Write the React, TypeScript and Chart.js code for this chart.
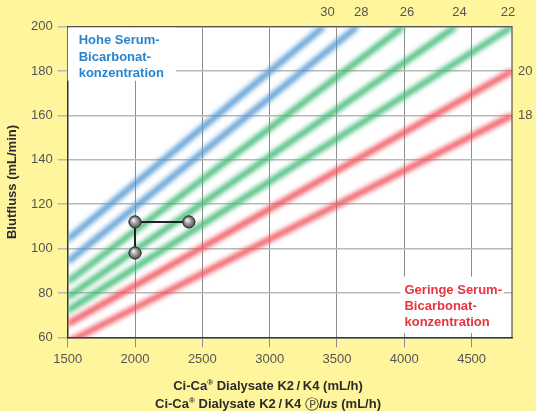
import React, { useEffect, useRef } from 'react';
import { Chart, registerables } from 'chart.js';

Chart.register(...registerables);

// ---------- data ----------
const xTicks = [1500, 2000, 2500, 3000, 3500, 4000, 4500];
const yTicks = [60, 80, 100, 120, 140, 160, 180, 200];
const xMin = 1500;
const xMax = 4800;
const yMin = 60;
const yMax = 200;

const bandLevels = ['30', '28', '26', '24', '22', '20', '18'];
const bandGroup = ['blue', 'blue', 'green', 'green', 'green', 'red', 'red'];
const bandStartX = [1500, 1500, 1500, 1500, 1500, 1500, 1500];
const bandStartY = [104, 94, 85, 78, 72, 66, 57.7];
const bandEndX = [3400, 3650, 3990, 4380, 4800, 4800, 4800];
const bandEndY = [200, 200, 200, 200, 200, 180, 160];
const topLabelLevels = ['30', '28', '26', '24', '22'];
const rightLabelLevels = ['20', '18'];

const markerX = [2400, 2000, 2000];
const markerY = [112, 112, 98];

const highNote = ['Hohe Serum-', 'Bicarbonat-', 'konzentration'];
const lowNote = ['Geringe Serum-', 'Bicarbonat-', 'konzentration'];
const yTitle = 'Blutfluss (mL/min)';

// ---------- styles ----------
const BG = '#fff59d';
const FONT = '"Liberation Sans", Arial, Helvetica, sans-serif';
const COLORS: Record<string, string> = {
  blue: '#4f96d2',
  green: '#3cb872',
  red: '#ef4d57',
};
const TICK_COLOR = '#555555';
const TITLE_COLOR = '#2b2b2b';

type Run = { t: string; f: string; dy?: number };

function drawRuns(ctx: CanvasRenderingContext2D, runs: Run[], cx: number, y: number) {
  let total = 0;
  for (const r of runs) {
    ctx.font = r.f;
    total += ctx.measureText(r.t).width;
  }
  let x = cx - total / 2;
  ctx.textAlign = 'left';
  ctx.textBaseline = 'alphabetic';
  for (const r of runs) {
    ctx.font = r.f;
    ctx.fillText(r.t, x, y + (r.dy || 0));
    x += ctx.measureText(r.t).width;
  }
}

function drawNote(
  ctx: CanvasRenderingContext2D,
  lines: string[],
  left: number,
  firstBaseline: number,
  color: string,
  pad: { l: number; r: number; t: number; b: number }
) {
  const lh = 16.2;
  ctx.font = `bold 13px ${FONT}`;
  let w = 0;
  lines.forEach((s) => (w = Math.max(w, ctx.measureText(s).width)));
  const top = firstBaseline - 10 - pad.t;
  const bottom = firstBaseline + lh * (lines.length - 1) + pad.b;
  ctx.fillStyle = '#ffffff';
  ctx.fillRect(left - pad.l, top, w + pad.l + pad.r, bottom - top);
  ctx.fillStyle = color;
  ctx.textAlign = 'left';
  ctx.textBaseline = 'alphabetic';
  lines.forEach((s, i) => ctx.fillText(s, left, firstBaseline + i * lh));
}

const blurPlugin = {
  id: 'blurBands',
  beforeDatasetDraw(chart: any, args: any) {
    if (args.index >= 1) {
      chart.ctx.save();
      chart.ctx.filter = 'blur(2.6px)';
    }
  },
  afterDatasetDraw(chart: any, args: any) {
    if (args.index >= 1) chart.ctx.restore();
  },
};

const decorPlugin = {
  id: 'decor',
  beforeDraw(chart: any) {
    const { ctx, chartArea: a } = chart;
    ctx.save();
    ctx.fillStyle = '#ffffff';
    ctx.fillRect(a.left, a.top, a.right - a.left, a.bottom - a.top);
    ctx.restore();
  },
  beforeDatasetsDraw(chart: any) {
    const { ctx, chartArea: a } = chart;
    ctx.save();
    drawNote(ctx, highNote, a.left + 11, a.top + 17.6, '#2a84cc', { l: 11, r: 12, t: 7, b: 4 });
    ctx.font = `bold 13px ${FONT}`;
    let w = 0;
    lowNote.forEach((s) => (w = Math.max(w, ctx.measureText(s).width)));
    const lowLeft = a.right - 10 - w;
    const lowBase = a.bottom - 11.3 - 16.2 * (lowNote.length - 1);
    drawNote(ctx, lowNote, lowLeft, lowBase, '#e8343e', { l: 4, r: 2, t: 7, b: 7 });
    ctx.restore();
  },
  afterDatasetsDraw(chart: any) {
    const { ctx, chartArea: a } = chart;
    ctx.save();
    // frame top & right
    ctx.strokeStyle = '#555555';
    ctx.lineWidth = 1.2;
    ctx.beginPath();
    ctx.moveTo(a.left, a.top);
    ctx.lineTo(a.right, a.top);
    ctx.lineTo(a.right, a.bottom);
    ctx.stroke();
    // marker shading
    const meta = chart.getDatasetMeta(0);
    meta.data.forEach((pt: any) => {
      const { x, y } = pt;
      const g = ctx.createRadialGradient(x - 1.8, y - 2, 0.3, x, y, 6.2);
      g.addColorStop(0, '#f4f4f4');
      g.addColorStop(0.45, '#a4a4a4');
      g.addColorStop(1, '#4a4a4a');
      ctx.beginPath();
      ctx.arc(x, y, 6, 0, Math.PI * 2);
      ctx.fillStyle = g;
      ctx.fill();
      ctx.strokeStyle = '#3a3a3a';
      ctx.lineWidth = 1;
      ctx.stroke();
    });
    ctx.restore();
  },
  afterDraw(chart: any) {
    const { ctx, chartArea: a, scales } = chart;
    const xs = scales.x;
    const ys = scales.y;
    ctx.save();
    ctx.fillStyle = TICK_COLOR;
    ctx.font = `13px ${FONT}`;
    ctx.textBaseline = 'middle';
    ctx.textAlign = 'center';
    topLabelLevels.forEach((lvl) => {
      const i = bandLevels.indexOf(lvl);
      let px = xs.getPixelForValue(bandEndX[i]) + 4;
      px = Math.min(px, a.right - 4);
      ctx.fillText(lvl, px, a.top - 14);
    });
    ctx.textAlign = 'left';
    rightLabelLevels.forEach((lvl) => {
      const i = bandLevels.indexOf(lvl);
      ctx.fillText(lvl, a.right + 6, ys.getPixelForValue(bandEndY[i]));
    });
    // y title
    ctx.fillStyle = TITLE_COLOR;
    ctx.font = `bold 13px ${FONT}`;
    ctx.save();
    ctx.translate(12, (a.top + a.bottom) / 2);
    ctx.rotate(-Math.PI / 2);
    ctx.textAlign = 'center';
    ctx.textBaseline = 'middle';
    ctx.fillText(yTitle, 0, 0);
    ctx.restore();
    // x titles
    const cx = chart.width / 2;
    const b13 = `bold 13px ${FONT}`;
    const sup = `bold 8px ${FONT}`;
    drawRuns(
      ctx,
      [
        { t: 'Ci-Ca', f: b13 },
        { t: '®', f: sup, dy: -5 },
        { t: ' Dialysate K2\u2009/\u2009K4 (mL/h)', f: b13 },
      ],
      cx,
      389.5
    );
    drawRuns(
      ctx,
      [
        { t: 'Ci-Ca', f: b13 },
        { t: '®', f: sup, dy: -5 },
        { t: ' Dialysate K2\u2009/\u2009K4 ', f: b13 },
        { t: '\u24C5', f: `14px "DejaVu Sans", sans-serif`, dy: 1 },
        { t: 'lus', f: `italic bold 13px ${FONT}` },
        { t: ' (mL/h)', f: b13 },
      ],
      cx,
      407.5
    );
    ctx.restore();
  },
};

export default function App() {
  const ref = useRef<HTMLCanvasElement>(null);
  useEffect(() => {
    document.body.style.margin = '0';
    document.body.style.background = BG;
    const canvas = ref.current;
    if (!canvas) return;
    const markerData = markerX.map((x, i) => ({ x, y: markerY[i] }));
    const bandSets = bandLevels.map((lvl, i) => ({
      label: lvl,
      data: [
        { x: bandStartX[i], y: bandStartY[i] },
        { x: bandEndX[i], y: bandEndY[i] },
      ],
      borderColor: COLORS[bandGroup[i]],
      borderWidth: 5.5,
      pointRadius: 0,
      fill: false,
      tension: 0,
      clip: 0,
    }));
    const chart = new Chart(canvas, {
      type: 'line',
      data: {
        datasets: [
          {
            label: 'markers',
            data: markerData,
            borderColor: '#222222',
            borderWidth: 2,
            pointRadius: 6,
            pointBackgroundColor: '#8a8a8a',
            pointBorderColor: '#333333',
            pointBorderWidth: 1,
            fill: false,
            tension: 0,
            clip: false as any,
          },
          ...bandSets,
        ] as any,
      },
      options: {
        animation: false,
        responsive: true,
        maintainAspectRatio: false,
        events: [],
        layout: { padding: { top: 26.7, right: 24, left: 0, bottom: 0 } },
        plugins: {
          legend: { display: false },
          tooltip: { enabled: false },
        },
        scales: {
          x: {
            type: 'linear',
            min: xMin,
            max: xMax,
            afterBuildTicks: (s: any) => {
              s.ticks = xTicks.map((v) => ({ value: v }));
            },
            afterFit: (s: any) => {
              s.height = 411 - 337.3;
            },
            ticks: {
              color: TICK_COLOR,
              font: { family: FONT, size: 13 },
              padding: 4,
              maxRotation: 0,
              autoSkip: false,
              callback: (v: any) => String(v),
            },
            grid: { color: '#8e8e8e', lineWidth: 1, tickLength: 10, drawTicks: true },
            border: { display: true, color: '#333333', width: 1.5 },
          },
          y: {
            type: 'linear',
            min: yMin,
            max: yMax,
            afterBuildTicks: (s: any) => {
              s.ticks = yTicks.map((v) => ({ value: v }));
            },
            afterFit: (s: any) => {
              s.width = 67.7;
            },
            ticks: {
              color: TICK_COLOR,
              font: { family: FONT, size: 13 },
              padding: 5,
              autoSkip: false,
              callback: (v: any) => String(v),
            },
            grid: { color: '#b9b9b9', lineWidth: 1.5, tickLength: 10, drawTicks: true },
            border: { display: true, color: '#333333', width: 1.5 },
          },
        },
      },
      plugins: [blurPlugin, decorPlugin],
    } as any);
    return () => chart.destroy();
  }, []);
  return (
    <div style={{ width: 536, height: 411, background: BG, position: 'relative' }}>
      <canvas ref={ref} />
    </div>
  );
}
